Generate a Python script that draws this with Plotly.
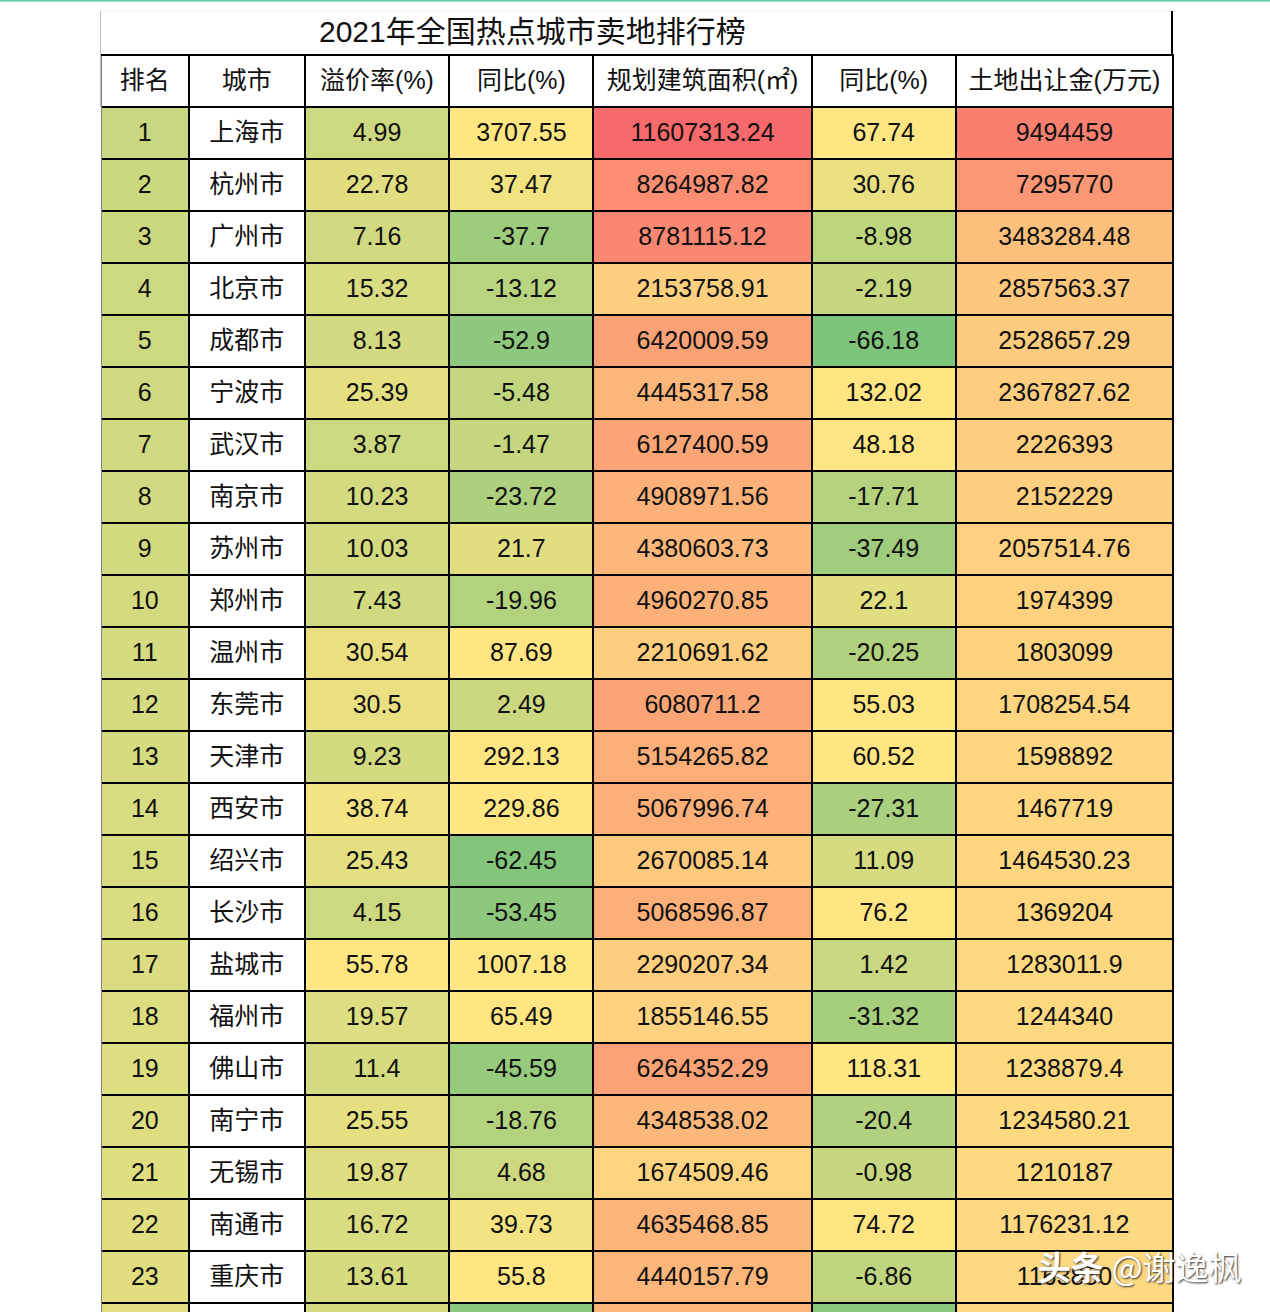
import plotly.graph_objects as go

W = 1270
H = 1312

title = "2021年全国热点城市卖地排行榜"
watermark = "<b>头条</b> @谢逸枫"
headers = ["排名", "城市", "溢价率(%)", "同比(%)", "规划建筑面积(㎡)", "同比(%)", "土地出让金(万元)"]

rank = list(range(1, 25))
city = ["上海市", "杭州市", "广州市", "北京市", "成都市", "宁波市", "武汉市", "南京市",
        "苏州市", "郑州市", "温州市", "东莞市", "天津市", "西安市", "绍兴市", "长沙市",
        "盐城市", "福州市", "佛山市", "南宁市", "无锡市", "南通市", "重庆市", ""]
premium = [4.99, 22.78, 7.16, 15.32, 8.13, 25.39, 3.87, 10.23, 10.03, 7.43, 30.54, 30.5,
           9.23, 38.74, 25.43, 4.15, 55.78, 19.57, 11.4, 25.55, 19.87, 16.72, 13.61, 12]
premium_yoy = [3707.55, 37.47, -37.7, -13.12, -52.9, -5.48, -1.47, -23.72, 21.7, -19.96,
               87.69, 2.49, 292.13, 229.86, -62.45, -53.45, 1007.18, 65.49, -45.59, -18.76,
               4.68, 39.73, 55.8, -55]
area = [11607313.24, 8264987.82, 8781115.12, 2153758.91, 6420009.59, 4445317.58, 6127400.59,
        4908971.56, 4380603.73, 4960270.85, 2210691.62, 6080711.2, 5154265.82, 5067996.74,
        2670085.14, 5068596.87, 2290207.34, 1855146.55, 6264352.29, 4348538.02, 1674509.46,
        4635468.85, 4440157.79, 4500000]
area_yoy = [67.74, 30.76, -8.98, -2.19, -66.18, 132.02, 48.18, -17.71, -37.49, 22.1, -20.25,
            55.03, 60.52, -27.31, 11.09, 76.2, 1.42, -31.32, 118.31, -20.4, -0.98, 74.72,
            -6.86, -55]
land_price = [9494459, 7295770, 3483284.48, 2857563.37, 2528657.29, 2367827.62, 2226393, 2152229,
              2057514.76, 1974399, 1803099, 1708254.54, 1598892, 1467719, 1464530.23, 1369204,
              1283011.9, 1244340, 1238879.4, 1234580.21, 1210187, 1176231.12, 1163850, 1150000]

# column widths and row height in pixels, measured on the picture
col_edges = [101, 188.5, 304.5, 449, 593, 811, 955, 1172]
col_widths = [b - a for a, b in zip(col_edges, col_edges[1:])]
header_top = 55
row_h = 52
text_drop = 7  # table text sits at the top of a cell, the picture has it centred

GREEN = (127, 196, 123)
YELLOW = (255, 230, 131)
RED = (248, 105, 107)
LOW, MID, HIGH = -66.18, 50, 11607313.24


def mix(c1, c2, t):
    return "rgb({},{},{})".format(*[round(a + (b - a) * t) for a, b in zip(c1, c2)])


def scale_color(v):
    # one colour scale over the whole table, as in the spreadsheet
    if v < MID:
        return mix(GREEN, YELLOW, (v - LOW) / (MID - LOW))
    return mix(YELLOW, RED, (v - MID) / (HIGH - MID))


def shown(values):
    # the last row is cut off by the picture edge, no text is visible there
    return [str(v) for v in values[:-1]] + [""]


def px(x):
    return x / W


def py(y):
    return 1 - y / H


number_cols = [rank, premium, premium_yoy, area, area_yoy, land_price]
fills = [[scale_color(v) for v in c] for c in number_cols]
fills.insert(1, ["white"] * len(rank))
texts = [shown(c) for c in number_cols]
texts.insert(1, city)

font_family = "Liberation Sans, Noto Sans CJK SC, sans-serif"
table_font = dict(family=font_family, size=25, color="#111")
x_domain = [px(col_edges[0]), px(col_edges[-1] + 1)]
no_color = "rgba(0,0,0,0)"

fig = go.Figure()
# grid and fills
fig.add_trace(go.Table(
    domain=dict(x=x_domain, y=[0, py(header_top)]),
    columnwidth=col_widths,
    header=dict(values=[""] * len(headers), height=row_h, fill_color="white",
                line=dict(color="black", width=2), font=table_font),
    cells=dict(values=[[""] * len(rank)] * len(headers), height=row_h, fill_color=fills,
               line=dict(color="black", width=2), font=table_font),
))
# same table again holding the text, a few pixels lower
fig.add_trace(go.Table(
    domain=dict(x=x_domain, y=[0, py(header_top + text_drop)]),
    columnwidth=col_widths,
    header=dict(values=headers, height=row_h, align="center", fill_color=no_color,
                line=dict(color=no_color, width=0), font=table_font),
    cells=dict(values=texts, height=row_h, align="center", fill_color=no_color,
               line=dict(color=no_color, width=0), font=table_font),
))

fig.update_layout(
    width=W, height=H, margin=dict(l=0, r=0, t=0, b=0),
    paper_bgcolor="white", showlegend=False,
    annotations=[
        dict(text=title, x=px(532), y=py(31), xref="paper", yref="paper",
             xanchor="center", yanchor="middle", showarrow=False,
             font=dict(family=font_family, size=30, color="#111")),
        dict(text=watermark, x=px(1140), y=py(1266), xref="paper", yref="paper",
             xanchor="center", yanchor="middle", showarrow=False,
             font=dict(family="Noto Sans CJK SC, sans-serif", size=33, color="white",
                       shadow="1px 1px 2px #333")),
    ],
    shapes=[
        dict(type="line", xref="paper", yref="paper", x0=0, x1=1, y0=py(0), y1=py(0),
             line=dict(color="#5fc9a3", width=3)),
        dict(type="line", xref="paper", yref="paper", x0=px(101), x1=px(1172), y0=py(11), y1=py(11),
             line=dict(color="#f0f0f0", width=1)),
        dict(type="line", xref="paper", yref="paper", x0=px(1172), x1=px(1172), y0=py(11), y1=py(55),
             line=dict(color="black", width=2)),
        # the table has no black left edge, only a thin grey one above the coloured rows
        dict(type="rect", xref="paper", yref="paper", x0=px(98), x1=px(101.5), y0=py(56), y1=0,
             fillcolor="white", line=dict(width=0), layer="above"),
        dict(type="line", xref="paper", yref="paper", x0=px(100.5), x1=px(100.5), y0=py(11), y1=py(107),
             line=dict(color="#bbbbbb", width=1), layer="above"),
    ],
)

fig.write_html("out.html", config=dict(displayModeBar=False),
               post_script="document.body.style.margin='0';")
